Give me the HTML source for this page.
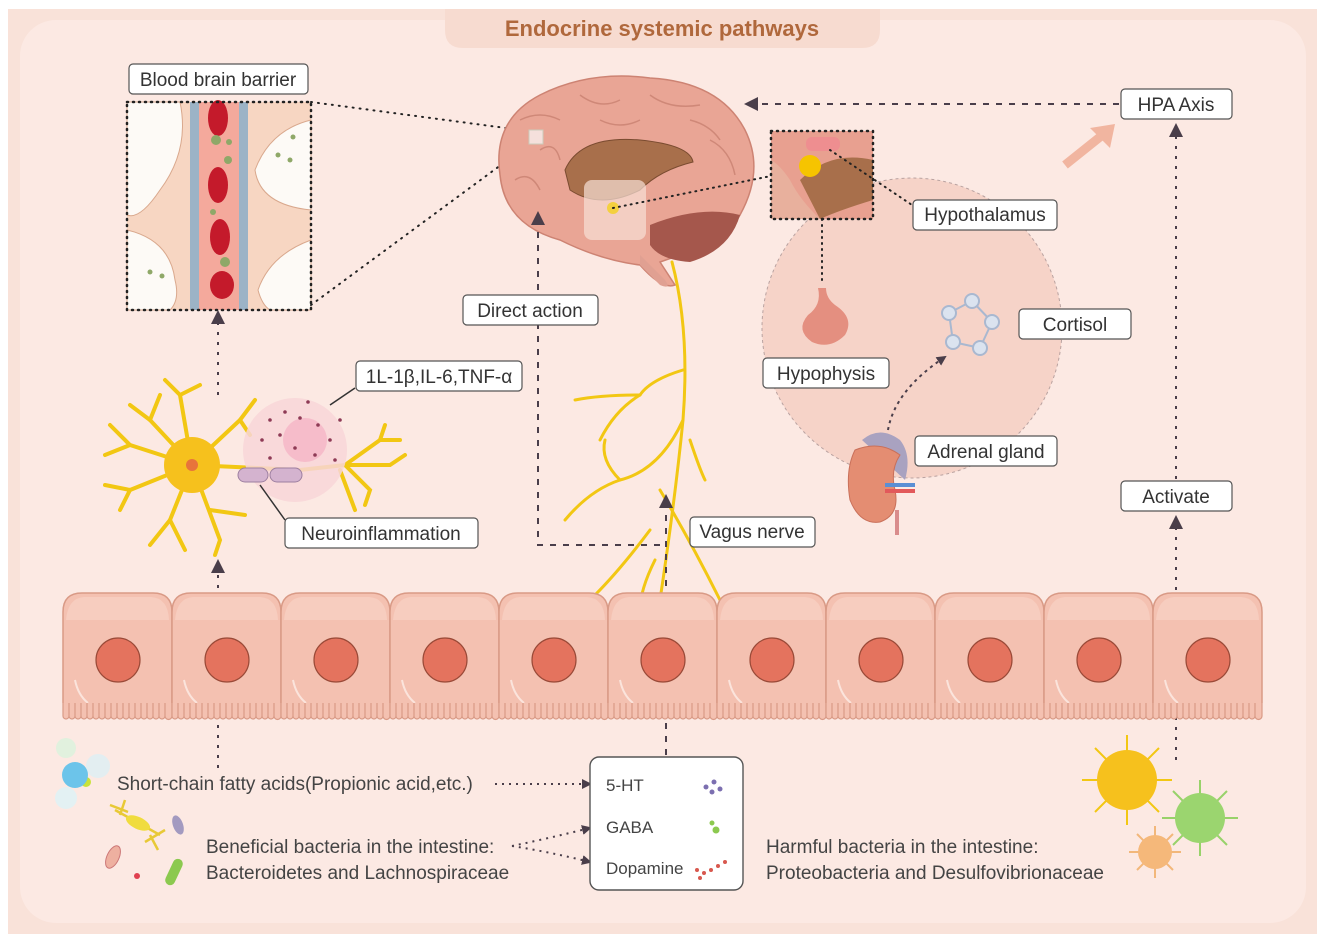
<!DOCTYPE html>
<html><head><meta charset="utf-8"><style>
html,body{margin:0;padding:0;background:#fff;}
svg{display:block;font-family:"Liberation Sans",sans-serif;}
.lbl{font-size:19px;fill:#333;}
</style></head><body>
<svg width="1325" height="942" viewBox="0 0 1325 942">
<defs>
<marker id="ar" markerWidth="10" markerHeight="10" refX="8" refY="5" orient="auto" markerUnits="userSpaceOnUse"><path d="M0,0 L10,5 L0,10 Z" fill="#4a3e4a"/></marker>
<marker id="ar2" markerWidth="14" markerHeight="14" refX="10" refY="7" orient="auto" markerUnits="userSpaceOnUse"><path d="M0,0 L14,7 L0,14 Z" fill="#4a3e4a"/></marker>
</defs>
<rect x="0" y="0" width="1325" height="942" fill="#fff"/>
<rect x="8" y="9" width="1309" height="925" fill="#f9e2d9"/>
<rect x="20" y="20" width="1286" height="903" rx="36" fill="#fce9e3"/>
<path d="M445,9 H880 V30 Q880,48 862,48 H463 Q445,48 445,30 Z" fill="#f7dbd0"/>
<text x="662" y="36" text-anchor="middle" font-size="22" font-weight="bold" fill="#b0683c">Endocrine systemic pathways</text>

<circle cx="912" cy="328" r="150" fill="#f6d3c8" stroke="#b9a2a0" stroke-dasharray="3,3"/>

<g>
<rect x="127" y="102" width="184" height="208" fill="#f7d6c2"/>
<path d="M127,102 H180 Q190,150 160,190 Q140,220 127,215 Z" fill="#fdfaf6" stroke="#d9a88d"/>
<path d="M127,230 Q170,240 175,280 Q180,300 170,310 H127 Z" fill="#fdfaf6" stroke="#d9a88d"/>
<path d="M311,120 Q270,130 255,170 Q260,205 311,210 Z" fill="#fdfaf6" stroke="#d9a88d"/>
<path d="M311,240 Q270,255 258,290 Q262,305 270,310 H311 Z" fill="#fdfaf6" stroke="#d9a88d"/>
<rect x="190" y="102" width="58" height="208" fill="#f4a99c"/>
<rect x="190" y="102" width="9" height="208" fill="#9cb3c6"/>
<rect x="239" y="102" width="9" height="208" fill="#9cb3c6"/>
<g fill="#c41a2b"><ellipse cx="218" cy="118" rx="10" ry="18"/><ellipse cx="218" cy="185" rx="10" ry="18"/><ellipse cx="220" cy="237" rx="10" ry="18"/><ellipse cx="222" cy="285" rx="12" ry="14"/></g>
<g fill="#8fa868"><circle cx="216" cy="140" r="5"/><circle cx="228" cy="160" r="4"/><circle cx="213" cy="212" r="3"/><circle cx="225" cy="262" r="5"/><circle cx="229" cy="142" r="3"/><circle cx="293" cy="137" r="2.5"/><circle cx="290" cy="160" r="2.5"/><circle cx="278" cy="155" r="2.5"/><circle cx="150" cy="272" r="2.5"/><circle cx="162" cy="276" r="2.5"/></g>
<rect x="127" y="102" width="184" height="208" fill="none" stroke="#222" stroke-width="2.5" stroke-dasharray="1,5" stroke-linecap="round"/>
</g>
<rect x="129" y="64" width="179" height="30" rx="4" fill="#fff" stroke="#555" stroke-width="1.2"/>
<text x="218" y="86" text-anchor="middle" class="lbl">Blood brain barrier</text>

<line x1="311" y1="102" x2="528" y2="131" stroke="#222" stroke-width="2" stroke-dasharray="1,6" stroke-linecap="round"/>
<line x1="311" y1="305" x2="528" y2="145" stroke="#222" stroke-width="2" stroke-dasharray="1,6" stroke-linecap="round"/>

<!-- brain -->
<path d="M500,175 Q492,120 540,95 Q590,70 650,78 Q720,82 745,130 Q765,170 740,215 Q720,250 680,255 L660,262 L675,285 Q662,290 640,265 Q600,260 560,240 Q505,225 500,175 Z" fill="#e9a595" stroke="#cd8373" stroke-width="1.5"/>
<path d="M650,225 Q700,205 740,215 Q730,250 690,262 Q660,260 650,245 Z" fill="#a5574c"/>
<path d="M565,170 Q580,135 640,140 Q690,145 693,162 Q660,170 640,190 Q600,210 570,190 Z" fill="#a86f4b" stroke="#7a4b30"/>
<path d="M640,255 L665,280 Q672,290 660,285 L640,265 Z" fill="#e0a092"/>
<rect x="584" y="180" width="62" height="60" rx="8" fill="#f6dfd6" opacity="0.7"/>
<circle cx="613" cy="208" r="6" fill="#f4d03f"/>
<rect x="529" y="130" width="14" height="14" fill="#f5e0dc" stroke="#ccb"/>
<g fill="none" stroke="#cf8878" stroke-width="1.5"><path d="M520,120 Q540,110 560,120"/><path d="M580,95 Q600,110 620,100"/><path d="M650,95 Q670,110 700,105"/><path d="M515,180 Q530,170 540,190"/><path d="M710,140 Q730,150 735,175"/><path d="M540,150 Q555,140 560,160"/><path d="M600,120 Q620,130 640,120"/><path d="M690,120 Q710,125 720,140"/></g>

<!-- vagus nerve -->
<g fill="none" stroke="#f2c713" stroke-width="3" stroke-linecap="round">
<path d="M672,262 Q690,330 683,420 Q675,500 660,600"/>
<path d="M683,420 Q660,470 620,480 Q590,490 565,520"/>
<path d="M620,480 Q600,460 605,440"/>
<path d="M683,370 Q650,380 640,395 Q600,395 575,400"/>
<path d="M640,395 Q615,410 600,440"/>
<path d="M690,440 Q700,470 705,480"/>
<path d="M660,490 Q690,540 720,600"/>
<path d="M650,530 Q620,570 595,595"/>
<path d="M655,560 Q640,590 640,610"/>
</g>

<rect x="771" y="131" width="102" height="88" fill="#e8b09d"/>
<path d="M771,131 H873 V219 H820 Q800,200 790,180 Q780,165 771,160 Z" fill="#e8a090"/>
<path d="M800,180 Q830,150 873,160 V200 Q840,210 820,219 Z" fill="#a86f4b"/>
<rect x="806" y="137" width="34" height="14" rx="6" fill="#ee8e90"/>
<circle cx="810" cy="166" r="11" fill="#f6c400"/>
<rect x="771" y="131" width="102" height="88" fill="none" stroke="#222" stroke-width="2.5" stroke-dasharray="1,5" stroke-linecap="round"/>
<line x1="613" y1="208" x2="771" y2="176" stroke="#222" stroke-width="2" stroke-dasharray="1,5" stroke-linecap="round"/>
<line x1="830" y1="150" x2="912" y2="205" stroke="#222" stroke-width="2" stroke-dasharray="1,5" stroke-linecap="round"/>
<line x1="822" y1="219" x2="822" y2="285" stroke="#222" stroke-width="2" stroke-dasharray="1,5" stroke-linecap="round"/>
<rect x="913" y="200" width="144" height="30" rx="4" fill="#fff" stroke="#555" stroke-width="1.2"/>
<text x="985" y="221" text-anchor="middle" class="lbl">Hypothalamus</text>

<path d="M818,288 Q822,305 808,315 Q795,330 812,342 Q830,350 845,335 Q855,318 835,305 Q826,298 826,288 Z" fill="#e48f80"/>
<rect x="763" y="358" width="126" height="30" rx="4" fill="#fff" stroke="#555" stroke-width="1.2"/>
<text x="826" y="380" text-anchor="middle" class="lbl">Hypophysis</text>

<g fill="#dbe3ef" stroke="#a9b8d0" stroke-width="2">
<line x1="949" y1="313" x2="972" y2="301"/><line x1="972" y1="301" x2="992" y2="322"/><line x1="992" y1="322" x2="980" y2="348"/><line x1="980" y1="348" x2="953" y2="342"/><line x1="953" y1="342" x2="949" y2="313"/>
<circle cx="949" cy="313" r="7"/><circle cx="972" cy="301" r="7"/><circle cx="992" cy="322" r="7"/><circle cx="980" cy="348" r="7"/><circle cx="953" cy="342" r="7"/>
</g>
<rect x="1019" y="309" width="112" height="30" rx="4" fill="#fff" stroke="#555" stroke-width="1.2"/>
<text x="1075" y="331" text-anchor="middle" class="lbl">Cortisol</text>
<path d="M888,430 Q895,390 945,357" fill="none" stroke="#4a3e4a" stroke-width="2" stroke-dasharray="3,4" marker-end="url(#ar)"/>

<path d="M862,440 Q880,425 900,440 Q912,455 905,480" fill="#a9a2c0"/>
<path d="M855,450 Q845,470 850,500 Q860,525 880,522 Q900,515 895,490 Q890,470 900,455 Q880,440 855,450 Z" fill="#e48d72" stroke="#c9705a"/>
<rect x="885" y="483" width="30" height="4" fill="#5b8fd4"/><rect x="885" y="489" width="30" height="4" fill="#e2595b"/>
<line x1="897" y1="510" x2="897" y2="535" stroke="#d98c8c" stroke-width="4"/>
<rect x="915" y="436" width="142" height="30" rx="4" fill="#fff" stroke="#555" stroke-width="1.2"/>
<text x="986" y="458" text-anchor="middle" class="lbl">Adrenal gland</text>

<rect x="1121" y="89" width="111" height="30" rx="4" fill="#fff" stroke="#555" stroke-width="1.2"/>
<text x="1176" y="111" text-anchor="middle" class="lbl">HPA  Axis</text>
<line x1="1119" y1="104" x2="748" y2="104" stroke="#4a3e4a" stroke-width="2" stroke-dasharray="6,7" marker-end="url(#ar2)"/>
<path d="M1065,165 L1105,133" stroke="#f1b5a0" stroke-width="9"/>
<path d="M1115,124 L1090,128 L1110,148 Z" fill="#f1b5a0"/>
<rect x="1121" y="481" width="111" height="30" rx="4" fill="#fff" stroke="#555" stroke-width="1.2"/>
<text x="1176" y="503" text-anchor="middle" class="lbl">Activate</text>
<line x1="1176" y1="479" x2="1176" y2="127" stroke="#4a3e4a" stroke-width="2" stroke-dasharray="3,7" marker-end="url(#ar2)"/>
<line x1="1176" y1="760" x2="1176" y2="519" stroke="#4a3e4a" stroke-width="2" stroke-dasharray="3,7" marker-end="url(#ar2)"/>

<path d="M660,545 H538 V215" fill="none" stroke="#4a3e4a" stroke-width="2" stroke-dasharray="6,7" marker-end="url(#ar2)"/>
<rect x="463" y="295" width="135" height="30" rx="4" fill="#fff" stroke="#555" stroke-width="1.2"/>
<text x="530" y="317" text-anchor="middle" class="lbl">Direct action</text>
<rect x="690" y="517" width="125" height="30" rx="4" fill="#fff" stroke="#555" stroke-width="1.2"/>
<text x="752" y="538" text-anchor="middle" class="lbl">Vagus nerve</text>
<line x1="666" y1="755" x2="666" y2="498" stroke="#4a3e4a" stroke-width="2" stroke-dasharray="6,7" marker-end="url(#ar2)"/>

<!-- neuron -->
<g fill="none" stroke="#f2c713" stroke-width="4" stroke-linecap="round">
<path d="M192,465 L130,445 L105,455"/><path d="M130,445 L110,425"/><path d="M192,465 L150,420 L130,405"/><path d="M150,420 L160,395"/>
<path d="M192,465 L180,395 L165,380"/><path d="M180,395 L200,385"/><path d="M192,465 L240,420 L255,400"/><path d="M240,420 L250,435"/>
<path d="M192,465 L130,490 L105,485"/><path d="M130,490 L120,510"/><path d="M192,465 L170,520 L150,545"/><path d="M170,520 L185,550"/>
<path d="M192,465 L220,540 L215,555"/><path d="M210,510 L245,515"/>
<path d="M192,465 L300,470 L345,465"/><path d="M345,465 L380,440 L385,425"/><path d="M345,465 L390,465 L405,455"/><path d="M345,465 L370,490 L365,505"/><path d="M340,470 L355,510"/><path d="M380,440 L400,440"/>
</g>
<circle cx="192" cy="465" r="28" fill="#f6c11d"/>
<circle cx="192" cy="465" r="6" fill="#e8743b"/>
<circle cx="295" cy="450" r="52" fill="#f8d6d8" opacity="0.85"/>
<circle cx="305" cy="440" r="22" fill="#f4a8bf" opacity="0.6"/>
<g fill="#8e3a55"><circle cx="270" cy="420" r="1.8"/><circle cx="285" cy="412" r="1.8"/><circle cx="300" cy="418" r="1.8"/><circle cx="318" cy="425" r="1.8"/><circle cx="330" cy="440" r="1.8"/><circle cx="262" cy="440" r="1.8"/><circle cx="280" cy="435" r="1.8"/><circle cx="295" cy="448" r="1.8"/><circle cx="315" cy="455" r="1.8"/><circle cx="335" cy="460" r="1.8"/><circle cx="270" cy="458" r="1.8"/><circle cx="340" cy="420" r="1.8"/><circle cx="308" cy="402" r="1.8"/></g>
<rect x="238" y="468" width="30" height="14" rx="7" fill="#d4b3cf" stroke="#9d7fa0"/>
<rect x="270" y="468" width="32" height="14" rx="7" fill="#d4b3cf" stroke="#9d7fa0"/>
<line x1="330" y1="405" x2="355" y2="388" stroke="#333" stroke-width="1.5"/>
<rect x="356" y="361" width="166" height="30" rx="4" fill="#fff" stroke="#555" stroke-width="1.2"/>
<text x="439" y="383" text-anchor="middle" class="lbl">1L-1β,IL-6,TNF-α</text>
<line x1="260" y1="485" x2="285" y2="520" stroke="#333" stroke-width="1.5"/>
<rect x="285" y="518" width="193" height="30" rx="4" fill="#fff" stroke="#555" stroke-width="1.2"/>
<text x="381" y="540" text-anchor="middle" class="lbl">Neuroinflammation</text>
<line x1="218" y1="395" x2="218" y2="314" stroke="#4a3e4a" stroke-width="2" stroke-dasharray="3,7" marker-end="url(#ar2)"/>
<line x1="218" y1="768" x2="218" y2="563" stroke="#4a3e4a" stroke-width="2" stroke-dasharray="3,7" marker-end="url(#ar2)"/>

<!-- epithelial cells -->
<g id="c">
<path d="M63,703 V612 Q63,593 82,593 H153 Q172,593 172,612 V703" fill="#f4c1b1" stroke="#d99a86" stroke-width="1.5"/>
<path d="M66,620 Q68,598 84,597 H151 Q168,598 169,620 Z" fill="#f7cdbf"/>
<path d="M75,680 Q78,695 88,703" fill="none" stroke="#fbe4dc" stroke-width="2"/>
<circle cx="118" cy="660" r="22" fill="#e4735e" stroke="#9a4a38" stroke-width="1.2"/>
<path d="M63,703 v13 a3,3 0 0 0 6,0 v-13 v13 a3,3 0 0 0 6,0 v-13 v13 a3,3 0 0 0 6,0 v-13 v13 a3,3 0 0 0 6,0 v-13 v13 a3,3 0 0 0 6,0 v-13 v13 a3,3 0 0 0 6,0 v-13 v13 a3,3 0 0 0 6,0 v-13 v13 a3,3 0 0 0 6,0 v-13 v13 a3,3 0 0 0 6,0 v-13 v13 a3,3 0 0 0 6,0 v-13 v13 a3,3 0 0 0 6,0 v-13 v13 a3,3 0 0 0 6,0 v-13 v13 a3,3 0 0 0 6,0 v-13 v13 a3,3 0 0 0 6,0 v-13 v13 a3,3 0 0 0 6,0 v-13 v13 a3,3 0 0 0 6,0 v-13 v13 a3,3 0 0 0 6,0 v-13 v13 a3,3 0 0 0 7,0 v-13" fill="#f4c1b1" stroke="#d99a86" stroke-width="1.2"/>
</g>
<use href="#c" x="109"/><use href="#c" x="218"/><use href="#c" x="327"/><use href="#c" x="436"/><use href="#c" x="545"/><use href="#c" x="654"/><use href="#c" x="763"/><use href="#c" x="872"/><use href="#c" x="981"/><use href="#c" x="1090"/>

<!-- SCFA -->
<circle cx="66" cy="748" r="10" fill="#e1f1de"/><circle cx="98" cy="766" r="12" fill="#e3eef1"/><circle cx="66" cy="798" r="11" fill="#e3f1f3"/><circle cx="86" cy="782" r="5" fill="#c8e23a"/>
<circle cx="75" cy="775" r="13" fill="#6cc4ea"/>
<text x="117" y="790" font-size="19" fill="#444">Short-chain fatty acids(Propionic acid,etc.)</text>
<line x1="495" y1="784" x2="590" y2="784" stroke="#4a3e4a" stroke-width="2" stroke-dasharray="2,5" marker-end="url(#ar)"/>

<g stroke="#e8c936" stroke-width="2.5" fill="none"><path d="M115,810 L160,835"/><path d="M125,800 L120,815 M110,805 L128,812"/><path d="M150,835 L158,850 M145,842 L165,830"/></g>
<ellipse cx="138" cy="823" rx="13" ry="6" fill="#f0dc3e" transform="rotate(25 138 823)"/>
<ellipse cx="178" cy="825" rx="5" ry="10" fill="#a39ac0" transform="rotate(-20 178 825)"/>
<ellipse cx="113" cy="857" rx="6" ry="12" fill="#eeb0a0" transform="rotate(25 113 857)" stroke="#c77"/>
<circle cx="137" cy="876" r="3" fill="#e04050"/>
<rect x="169" y="858" width="10" height="28" rx="5" fill="#8cc94f" transform="rotate(25 174 872)"/>
<text x="206" y="853" font-size="19" fill="#444">Beneficial bacteria in the intestine:</text>
<text x="206" y="879" font-size="19" fill="#444">Bacteroidetes and Lachnospiraceae</text>
<path d="M512,846 Q550,838 590,828" fill="none" stroke="#4a3e4a" stroke-width="2" stroke-dasharray="2,5" marker-end="url(#ar)"/>
<path d="M512,846 Q550,852 590,862" fill="none" stroke="#4a3e4a" stroke-width="2" stroke-dasharray="2,5" marker-end="url(#ar)"/>

<rect x="590" y="757" width="153" height="133" rx="9" fill="#fff" stroke="#555" stroke-width="1.4"/>
<text x="606" y="791" font-size="17" fill="#444">5-HT</text>
<text x="606" y="833" font-size="17" fill="#444">GABA</text>
<text x="606" y="874" font-size="17" fill="#444">Dopamine</text>
<g fill="#7c6fb0"><circle cx="706" cy="787" r="2.5"/><circle cx="714" cy="782" r="2.5"/><circle cx="720" cy="789" r="2.5"/><circle cx="712" cy="792" r="2.5"/></g>
<g fill="#8cc94f"><circle cx="712" cy="823" r="2.5"/><circle cx="716" cy="830" r="3.5"/></g>
<g fill="#d8584e"><circle cx="697" cy="870" r="2"/><circle cx="704" cy="873" r="2"/><circle cx="711" cy="870" r="2"/><circle cx="718" cy="866" r="2"/><circle cx="725" cy="862" r="2"/><circle cx="700" cy="878" r="2"/></g>

<g stroke="#f2c713" stroke-width="2"><path d="M1127,780 m-45,0 h90 M1127,735 v90 M1095,748 l64,64 M1159,748 l-64,64"/></g>
<circle cx="1127" cy="780" r="30" fill="#f6c11d"/>
<g stroke="#98d26a" stroke-width="2"><path d="M1200,818 m-38,0 h76 M1200,780 v76 M1173,791 l54,54 M1227,791 l-54,54"/></g>
<circle cx="1200" cy="818" r="25" fill="#9bd56f"/>
<g stroke="#f2b77a" stroke-width="2"><path d="M1155,852 m-26,0 h52 M1155,826 v52 M1137,834 l36,36 M1173,834 l-36,36"/></g>
<circle cx="1155" cy="852" r="17" fill="#f5b87a"/>
<text x="766" y="853" font-size="19" fill="#444">Harmful bacteria in the intestine:</text>
<text x="766" y="879" font-size="19" fill="#444">Proteobacteria and Desulfovibrionaceae</text>
</svg>
</body></html>
